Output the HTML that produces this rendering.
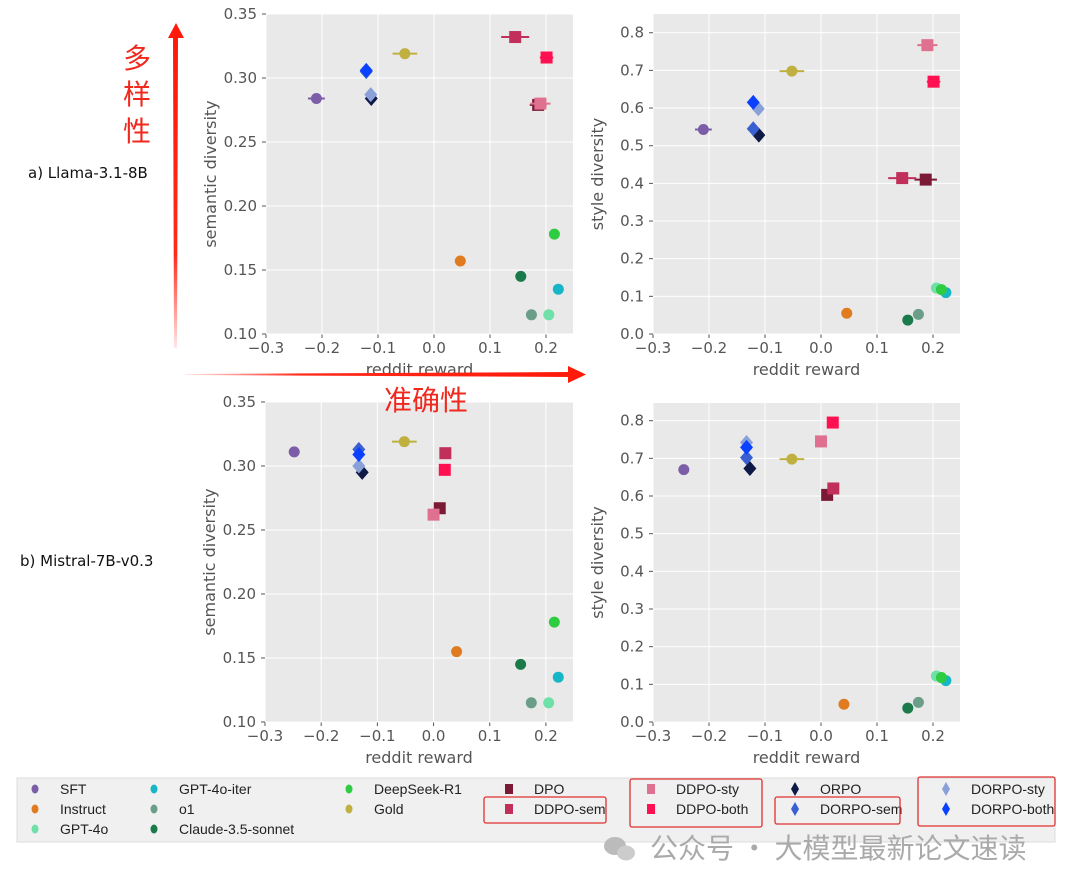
<!DOCTYPE html>
<html><head><meta charset="utf-8">
<style>
body{margin:0;background:#fff;width:1080px;height:890px;overflow:hidden;font-family:"Liberation Sans","DejaVu Sans","Noto Sans CJK SC",sans-serif;}
svg text{font-family:"DejaVu Sans","Liberation Sans","Noto Sans CJK SC",sans-serif;}
</style></head>
<body>
<svg id="fig" width="1080" height="890" viewBox="0 0 1080 890" xmlns="http://www.w3.org/2000/svg">
<defs>
<linearGradient id="vg" x1="0" y1="1" x2="0" y2="0"><stop offset="0" stop-color="#ff2a1a" stop-opacity="0.1"/><stop offset="0.3" stop-color="#ff2a1a"/><stop offset="1" stop-color="#ff1a0a"/></linearGradient>
<linearGradient id="hg" x1="0" y1="0" x2="1" y2="0"><stop offset="0" stop-color="#ff2a1a" stop-opacity="0.1"/><stop offset="0.3" stop-color="#ff2a1a"/><stop offset="1" stop-color="#ff1a0a"/></linearGradient>
</defs>
<g id="panels"></g>
<text x="28" y="178" font-size="15" fill="#111">a) Llama-3.1-8B</text>
<text x="20" y="566" font-size="15" fill="#111">b) Mistral-7B-v0.3</text>
<g>
<polygon points="174,348 177,348 178,36 173,36" fill="url(#vg)"/>
<polygon points="168,38 176,23 184,38" fill="#ff1a0a"/>
</g>
<g font-size="28" fill="#f0281e">
<text x="123" y="68" style='font-family:"Noto Sans CJK SC",sans-serif'>多</text>
<text x="123" y="104" style='font-family:"Noto Sans CJK SC",sans-serif'>样</text>
<text x="123" y="141" style='font-family:"Noto Sans CJK SC",sans-serif'>性</text>
</g>
<g>
<polygon points="185,374 570,372 570,377 185,375" fill="url(#hg)"/>
<polygon points="568,366 586,374.5 568,383" fill="#ff1a0a"/>
</g>
<text x="384" y="410" font-size="28" fill="#f0281e" style='font-family:"Noto Sans CJK SC",sans-serif'>准确性</text>
<g id="legend"></g>
<g>
<ellipse cx="615" cy="846" rx="11" ry="9" fill="#bbb"/><ellipse cx="626" cy="853" rx="9" ry="7.5" fill="#ccc"/>
<text x="650" y="858" font-size="28" fill="#aaa" style='font-family:"Noto Sans CJK SC",sans-serif'>公众号 · 大模型最新论文速读</text>
</g>
</svg>
<script>
const methods=["SFT","Instruct","GPT-4o","GPT-4o-iter","o1","Claude-3.5-sonnet","DeepSeek-R1","Gold","DPO","DDPO-sem","DDPO-sty","DDPO-both","ORPO","DORPO-sty","DORPO-sem","DORPO-both"];
const colors=["#7b5ea7","#e07b20","#6fe0a8","#17b6c6","#6a9e88","#1a7a4a","#2ecc40","#c0b040","#7a1a35","#c0305a","#e07090","#ff1050","#0e1a45","#8aa0d8","#3a5fd0","#0a40ff"];
const shapes=["o","o","o","o","o","o","o","o","s","s","s","s","d","d","d","d"];
// Llama semantic
const llamaRew=[-0.21,0.047,0.205,0.222,0.174,0.155,0.215,-0.052,0.186,0.145,0.19,0.201,-0.112,-0.113,-0.121,-0.121];
const llamaRewErr=[0.015,0,0,0,0,0,0,0.022,0.015,0.025,0.018,0.012,0,0,0,0];
const llamaSem=[0.284,0.157,0.115,0.135,0.115,0.145,0.178,0.319,0.279,0.332,0.280,0.316,0.284,0.287,0.305,0.306];
const llamaStyRew=[-0.21,0.046,0.206,0.223,0.174,0.155,0.215,-0.052,0.187,0.145,0.19,0.201,-0.111,-0.112,-0.121,-0.121];
const llamaStyErr=[0.015,0,0,0,0,0,0,0.022,0.02,0.025,0.018,0.012,0,0,0,0];
const llamaSty=[0.543,0.055,0.122,0.110,0.052,0.037,0.118,0.698,0.410,0.414,0.767,0.670,0.528,0.598,0.545,0.615];
// Mistral
const mistralRew=[-0.248,0.041,0.205,0.222,0.174,0.155,0.215,-0.052,0.011,0.021,0.0,0.02,-0.127,-0.133,-0.133,-0.133];
const mistralRewErr=[0.008,0,0,0,0,0,0,0.022,0.006,0.006,0.006,0.006,0,0,0,0];
const mistralSem=[0.311,0.155,0.115,0.135,0.115,0.145,0.178,0.319,0.267,0.310,0.262,0.297,0.295,0.300,0.313,0.309];
const mistralStyRew=[-0.245,0.041,0.206,0.223,0.174,0.155,0.215,-0.052,0.011,0.022,0.0,0.021,-0.127,-0.133,-0.133,-0.133];
const mistralSty=[0.670,0.047,0.122,0.110,0.052,0.037,0.118,0.698,0.603,0.620,0.745,0.795,0.673,0.742,0.702,0.729];
const xTicks=[-0.3,-0.2,-0.1,0.0,0.1,0.2];
const xTickLabels=["\u22120.3","\u22120.2","\u22120.1","0.0","0.1","0.2"];
const semTicks=[0.10,0.15,0.20,0.25,0.30,0.35];
const semTickLabels=["0.10","0.15","0.20","0.25","0.30","0.35"];
const styTicks=[0.0,0.1,0.2,0.3,0.4,0.5,0.6,0.7,0.8];
const styTickLabels=["0.0","0.1","0.2","0.3","0.4","0.5","0.6","0.7","0.8"];
// legend order (column-major, as in the reference)
const legendOrder=["SFT","Instruct","GPT-4o","GPT-4o-iter","o1","Claude-3.5-sonnet","DeepSeek-R1","Gold","DPO","DDPO-sem","DDPO-sty","DDPO-both","ORPO","DORPO-sem","DORPO-sty","DORPO-both"];

const NS="http://www.w3.org/2000/svg";
function mk(tag,attrs,parent){const e=document.createElementNS(NS,tag);for(const k in attrs)e.setAttribute(k,attrs[k]);if(parent)parent.appendChild(e);return e;}
const root=document.getElementById("panels");

function panel(name,L,T,R,B,xmin,xmax,ymin,ymax,yT,yTL,ylabel,xs,errs,ys){
  const g=mk("g",{},root);
  
  
  const X=v=>L+(v-xmin)/(xmax-xmin)*(R-L);
  const Y=v=>B-(v-ymin)/(ymax-ymin)*(B-T);
  const bg=mk("rect",{x:L,y:T,width:R-L,height:B-T,fill:"#e9e9e9"},g);
  
  
  xTicks.forEach((t,i)=>{
    mk("line",{x1:X(t),x2:X(t),y1:T,y2:B,stroke:"#fff","stroke-width":1},g);
    mk("line",{x1:X(t),x2:X(t),y1:B,y2:B+4,stroke:"#555","stroke-width":1},g);
    const tx=mk("text",{x:X(t),y:B+19,"font-size":15,fill:"#555","text-anchor":"middle"},g);
    tx.textContent=xTickLabels[i];
    
    
  });
  yT.forEach((t,i)=>{
    mk("line",{x1:L,x2:R,y1:Y(t),y2:Y(t),stroke:"#fff","stroke-width":1},g);
    mk("line",{x1:L-4,x2:L,y1:Y(t),y2:Y(t),stroke:"#555","stroke-width":1},g);
    const ty=mk("text",{x:L-9,y:Y(t)+5,"font-size":15,fill:"#555","text-anchor":"end"},g);
    ty.textContent=yTL[i];
    
    
  });
  const xl=mk("text",{x:(L+R)/2,y:B+41,"font-size":16,fill:"#555","text-anchor":"middle"},g);
  xl.textContent="reddit reward";
  
  
  const cy=(T+B)/2, cx=L-50;
  const yl=mk("text",{x:cx,y:cy,"font-size":16,fill:"#555","text-anchor":"middle",transform:`rotate(-90 ${cx} ${cy})`},g);
  yl.textContent=ylabel;
  
  
  methods.forEach((m,i)=>{
    const px=X(xs[i]), py=Y(ys[i]), c=colors[i];
    const mg=mk("g",{},g);
    
    
    if(errs[i]>0) mk("line",{x1:X(xs[i]-errs[i]),x2:X(xs[i]+errs[i]),y1:py,y2:py,stroke:c,"stroke-width":2},mg);
    if(shapes[i]==="o") mk("circle",{cx:px,cy:py,r:5.5,fill:c},mg);
    else if(shapes[i]==="s") mk("rect",{x:px-6,y:py-6,width:12,height:12,fill:c},mg);
    else mk("polygon",{points:`${px},${py-7.5} ${px+6.5},${py} ${px},${py+7.5} ${px-6.5},${py}`,fill:c},mg);
  });
}
const xmin=-0.3,xmax=0.2+0.1*27/56;
panel("panel-llama-semantic",266,14,573,334,xmin,xmax,0.10,0.35,semTicks,semTickLabels,"semantic diversity",llamaRew,llamaRewErr,llamaSem);
panel("panel-llama-style",653,14,960,334,xmin,xmax,0.0,0.8+0.1*18.7/37.6,styTicks,styTickLabels,"style diversity",llamaStyRew,llamaStyErr,llamaSty);
panel("panel-mistral-semantic",265,402,573,722,xmin,xmax,0.10,0.35,semTicks,semTickLabels,"semantic diversity",mistralRew,mistralRewErr,mistralSem);
panel("panel-mistral-style",653,403,960,722,xmin,xmax,0.0,0.8+0.1*17.7/37.7,styTicks,styTickLabels,"style diversity",mistralStyRew,mistralRewErr,mistralSty);

// legend
const lg=document.getElementById("legend");
mk("rect",{x:17,y:778,width:1038,height:64,fill:"#f0f0f0",stroke:"#ddd"},lg);
const legCol=[0,0,0,1,1,1,2,2,3,3,4,4,5,5,6,6];
const legRow=[0,1,2,0,1,2,0,1,0,1,0,1,0,1,0,1];
const colX=[35,154,349,509,651,795,946];
legendOrder.forEach((m,k)=>{
  const i=methods.indexOf(m);
  const x=colX[legCol[k]], y=789+legRow[k]*20, c=colors[i];
  const eg=mk("g",{},lg);
  
  
  if(shapes[i]==="o") mk("ellipse",{cx:x,cy:y,rx:3.5,ry:4.5,fill:c},eg);
  else if(shapes[i]==="s") mk("rect",{x:x-4,y:y-5,width:8,height:10,fill:c},eg);
  else mk("polygon",{points:`${x},${y-7} ${x+4},${y} ${x},${y+7} ${x-4},${y}`,fill:c},eg);
  const t=mk("text",{x:x+25,y:y+5,"font-size":14,fill:"#222",style:'font-family:"Liberation Sans",sans-serif'},eg);
  t.textContent=m;
});
[[484,797,122,26],[630,779,132,48],[775,797,125,27],[918,777,137,49]].forEach(b=>{
  const r=mk("rect",{x:b[0],y:b[1],width:b[2],height:b[3],fill:"none",stroke:"#e03030","stroke-width":1.3,rx:2},lg);
  
  
});
</script>
</body></html>
